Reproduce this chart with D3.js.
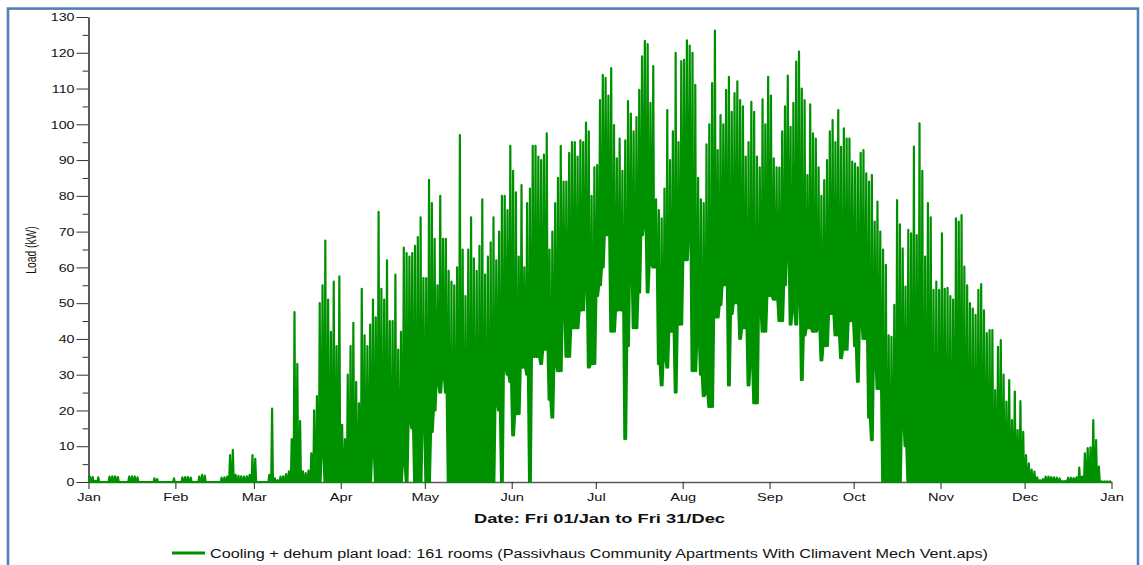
<!DOCTYPE html>
<html>
<head>
<meta charset="utf-8">
<script src="https://cdn.jsdelivr.net/npm/d3@7"></script>
<style>
  html, body { margin: 0; padding: 0; background: #fff; }
  svg { display: block; font-family: "Liberation Sans", Arial, sans-serif; }
</style>
</head>
<body>
<svg id="chart" width="1143" height="565"></svg>
<script>
// Month boundaries (day of year) and their labels
const monthStarts = [0, 31, 59, 90, 120, 151, 181, 212, 243, 273, 304, 334, 365];
const monthLabels = ["Jan", "Feb", "Mar", "Apr", "May", "Jun", "Jul", "Aug", "Sep", "Oct", "Nov", "Dec", "Jan"];
const yMajorTicks = [0, 10, 20, 30, 40, 50, 60, 70, 80, 90, 100, 110, 120, 130];
const yMinorTicks = [5, 15, 25, 35, 45, 55, 65, 75, 85, 95, 105, 115, 125];

// Daily peak plant load (kW)
const peakJan = [1.5,1.4,0.3,1.3,0,0,0,1.5,1.6,1.6,1.4,0,0,0,1.5,1.6,1.5,1.3,0,0,0,0,0,1.0,0.8,0,0,0,0,0,1.0];
const peakFeb = [0,0,1.3,1.4,1.4,1.2,0,0,1.5,2.0,1.8,0,0,0,0,0,1.2,1.3,1.5,7.5,9.0,2.0,1.7,1.6,1.5,1.6,2.0,7.5];
const peakMar = [6.5,0,0,0,0,2,20.5,1,0.5,1.5,1.6,2.2,3,12,47.5,33,17,3,2.5,3.2,8,20,24,50,55,67.5,51,42,56,38,57.5];
const peakApr = [16,12,30,38,44.5,28,22,54,41,38,44,51,46,75.5,54,51,62,45,45,58,37,42,65.5,64,63,64,66,68.5,74,57];
const peakMay = [57,84.5,78,68,55,80,68,68,59,56,55,60,97,65,52,65,74,62.5,59,66,79,58,63,67,74,62,70,80,80,76,94];
const peakJun = [87,81,63,83,60,78,82,94,94,91,90,91.5,97.5,65,70,78,85,94,84,84,92,95,95,91,95.5,95,100.5,98,80,88];
const peakJul = [88.6,106.8,113.8,113,108,115.7,99.8,90.5,96,87,95.5,106.5,103,98,102,109.6,119,123.3,122.4,106,116.3,79,76,73.7,82,104,90,98,120,95,117.7];
const peakAug = [118,123.5,122,120,111,85,79,78,94.4,100,111.5,126.2,92.8,102.6,100,109.6,113.3,103.5,108.7,112,106.8,105,91,95,106.3,103.5,91,88,107,100,113.3];
const peakSep = [108,90.5,88,87.9,98,105,113.6,99.3,106,117.5,120.3,110,106.8,85.8,105.6,97.5,96,88,80,84.4,90,98,101.2,95,104,93.7,98.9,96,96,89.6];
const peakOct = [89,88,92,92.8,86.3,84,85.8,72.8,78.4,70,65,60.7,41,40.6,49.5,78.8,72,65.3,54.6,70.5,69.5,93.8,69,100.3,87,63,78,74,53.7,56,53.7];
const peakNov = [69.5,54,54.3,52,51,73.7,72.8,74.6,60.2,55,50,48.5,46.7,53.7,55.3,48,41.6,42.5,42.5,25.7,37.8,39.7,30,22.5,28.5,17.3,25.3,14.5,22.6,14];
const peakDec = [7.5,5.2,3.5,2.9,1.3,0.5,0.8,1.5,1.5,1.4,1.3,1.2,1.0,0.3,0.3,1.2,1.2,1.1,1.3,4,1.5,8,9.5,9.7,17.3,11.7,4.3,0.2,0.2,0.2,0.2];

// Daily minimum plant load (kW)
const lowJan = [0,0,0,0,0,0,0,0,0,0,0,0,0,0,0,0,0,0,0,0,0,0,0,0,0,0,0,0,0,0,0];
const lowFeb = [0,0,0,0,0,0,0,0,0,0,0,0,0,0,0,0,0,0,0,0,0,0,0,0,0,0,0,0];
const lowMar = [0,0,0,0,0,0,0,0,0,0,0,0,0,0,0,0,0,0,0,0,0,0,0,0,9,0,0,0,0,0,0];
const lowApr = [0,0,0,0,0,0,0,0,0,0,0,9,0,0,0,0,0,0,0,0,0,0,6,0,17,15,0,0,0,18];
const lowMay = [0,0,14,20,28,25,30,25,0,0,0,0,0,0,0,0,0,0,0,0,0,0,0,0,0,22,20,0,32,30,28];
const lowJun = [13,19,19,32,32,30,0,35,35,35,33,37,37,23,18,33,31,31,49,35,35,43,43,43,48,48,56,32,33,33];
const lowJul = [52,55,60,69,69,42,42,48,48,48,12,38,60,43,43,53,69,72,53,61,60,60,33,27,35,32,42,42,25,44,44];
const lowAug = [62,62,70,31,31,40,30,24,25,21,21,46,46,49.5,55,55,27,47,50,50,40,43,43,27,34,22,22,49,42,42,52];
const lowSep = [52,51,51,45,45,55,65,44,48.5,44,52,28.5,41,43,43,42,42,43,34,38,38,47,47,41,41,34.6,37,37,45,45];
const lowOct = [38,28,45,40,40,18,11.7,34.6,26,26,0,0,0,0,0,0,0,17,10,0,0,0,0,0,0,0,0,0,0,0,0];
const lowNov = [0,0,0,0,0,0,0,0,0,0,0,0,0,0,0,0,0,0,0,0,0,0,0,0,0,0,0,0,0,0];
const lowDec = [0,0,0,0,0,0,0,0,0,0,0,0,0,0,0,0,0,0,0,0,0,0,0,0,0,0,0,0,0,0,0];

const seriesName = "Cooling + dehum plant load: 161 rooms (Passivhaus Community Apartments With Climavent Mech Vent.aps)";
const xTitle = "Date: Fri 01/Jan to Fri 31/Dec";
const yTitle = "Load (kW)";

const peaks = [].concat(peakJan, peakFeb, peakMar, peakApr, peakMay, peakJun,
                        peakJul, peakAug, peakSep, peakOct, peakNov, peakDec);
const lows = [].concat(lowJan, lowFeb, lowMar, lowApr, lowMay, lowJun,
                       lowJul, lowAug, lowSep, lowOct, lowNov, lowDec);

const svg = d3.select("#chart");
const SX = 1.38;            // horizontal glyph stretch used by the report renderer
const green = "#009100";
const axisGray = "#5a5a5a";

// Outer frame
svg.append("rect")
  .attr("x", 8).attr("y", 8.6)
  .attr("width", 1130).attr("height", 600)
  .attr("fill", "none")
  .attr("stroke", "#4f81bd")
  .attr("stroke-width", 2.6);

const x = d3.scaleLinear().domain([0, 365]).range([88.5, 1111.5]);
const y = d3.scaleLinear().domain([0, 130]).range([482, 17]);

// Y axis: minor ticks
svg.append("g")
  .attr("transform", `translate(${x(0)},0)`)
  .call(d3.axisLeft(y).tickValues(yMinorTicks).tickSize(6).tickSizeOuter(0).tickFormat(""))
  .call(g => g.select(".domain").remove())
  .call(g => g.selectAll("line").attr("stroke", "#333"));

// Y axis: major ticks and labels
const yAxis = svg.append("g")
  .attr("transform", `translate(${x(0)},0)`)
  .call(d3.axisLeft(y).tickValues(yMajorTicks).tickSize(12).tickSizeOuter(0).tickFormat(d3.format("d")));
yAxis.select(".domain").attr("stroke", axisGray).attr("stroke-width", 2);
yAxis.selectAll(".tick line").attr("stroke", "#333");
yAxis.selectAll(".tick text")
  .attr("x", 0).attr("dy", "0.36em")
  .attr("transform", `translate(-14,0) scale(${SX},1)`)
  .attr("font-size", 10.3)
  .attr("font-family", "Liberation Sans, Arial, sans-serif")
  .attr("fill", "#111");

// X axis with month ticks
const xAxis = svg.append("g")
  .attr("transform", `translate(0,${y(0)})`)
  .call(d3.axisBottom(x).tickValues(monthStarts).tickSize(7).tickSizeOuter(0)
    .tickFormat((d, i) => monthLabels[i]));
xAxis.select(".domain").attr("stroke", axisGray).attr("stroke-width", 1.5);
xAxis.selectAll(".tick line").attr("stroke", "#222");
xAxis.selectAll(".tick text")
  .attr("y", 11).attr("dy", "0.71em")
  .attr("transform", `scale(${SX},1)`)
  .attr("font-size", 10.6)
  .attr("font-family", "Liberation Sans, Arial, sans-serif")
  .attr("fill", "#111");

// Hourly-style trace: each day rises from its minimum to its peak and falls back
const pts = [];
peaks.forEach((p, i) => {
  pts.push([i + 0.2, lows[i]], [i + 0.5, p], [i + 0.8, lows[i]]);
});
const line = d3.line().x(d => x(d[0])).y(d => y(d[1]));
svg.append("path")
  .datum(pts)
  .attr("d", line)
  .attr("fill", "none")
  .attr("stroke", green)
  .attr("stroke-width", 2.2)
  .attr("stroke-linejoin", "round");

// Axis titles
svg.append("text")
  .attr("x", 599.5).attr("y", 523)
  .attr("text-anchor", "middle")
  .attr("font-weight", "bold")
  .attr("font-size", 12)
  .attr("textLength", 251)
  .attr("lengthAdjust", "spacingAndGlyphs")
  .attr("fill", "#111")
  .text(xTitle);

svg.append("text")
  .attr("transform", `translate(36,250) scale(${SX},1) rotate(-90)`)
  .attr("text-anchor", "middle")
  .attr("font-size", 10.3)
  .attr("fill", "#111")
  .text(yTitle);

// Legend
svg.append("line")
  .attr("x1", 172).attr("x2", 205)
  .attr("y1", 553).attr("y2", 553)
  .attr("stroke", green).attr("stroke-width", 3);
svg.append("text")
  .attr("x", 210).attr("y", 558)
  .attr("font-size", 12.5)
  .attr("textLength", 778)
  .attr("lengthAdjust", "spacingAndGlyphs")
  .attr("fill", "#111")
  .text(seriesName);
</script>
</body>
</html>
